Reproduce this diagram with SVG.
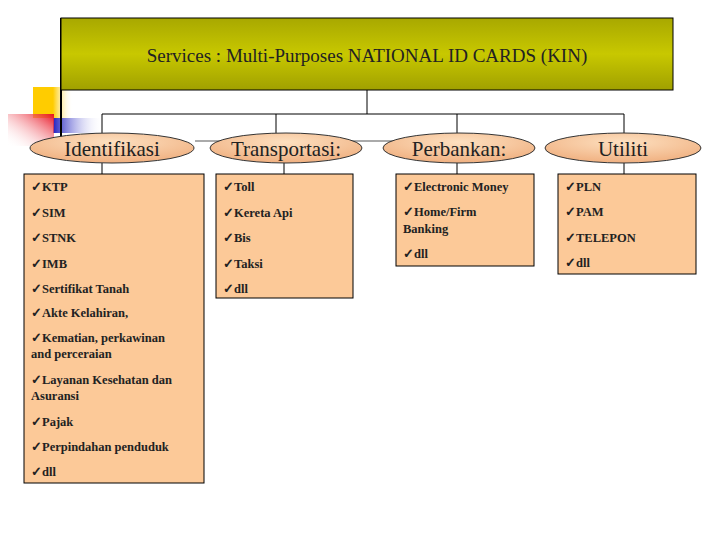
<svg xmlns="http://www.w3.org/2000/svg" width="720" height="540" viewBox="0 0 720 540">
<defs>
<linearGradient id="tg" x1="0" y1="0" x2="0" y2="1"><stop offset="0" stop-color="#a8a800"/><stop offset="0.5" stop-color="#c8c800"/><stop offset="1" stop-color="#a0a000"/></linearGradient>
<radialGradient id="eg" cx="0.5" cy="0.3" r="0.7"><stop offset="0" stop-color="#fde0c0"/><stop offset="1" stop-color="#f0b080"/></radialGradient>
<linearGradient id="rg" x1="1" y1="0" x2="0" y2="1"><stop offset="0" stop-color="#e81020"/><stop offset="1" stop-color="#ffffff" stop-opacity="0"/></linearGradient>
<linearGradient id="bg" x1="0" y1="0" x2="1" y2="0"><stop offset="0" stop-color="#2020c0"/><stop offset="1" stop-color="#ffffff" stop-opacity="0"/></linearGradient>
<linearGradient id="yg" x1="0" y1="0" x2="1" y2="0"><stop offset="0.5" stop-color="#ffcc00"/><stop offset="1" stop-color="#ffffff" stop-opacity="0"/></linearGradient>
<style>
.box{fill:#fcc998;stroke:#000;stroke-width:1}
.ell{fill:url(#eg);stroke:#333;stroke-width:1}
.hd{font-family:"Liberation Serif",serif;font-size:21px;fill:#222;text-anchor:middle}
.it{font-family:"Liberation Serif",serif;font-size:12.5px;font-weight:bold;fill:#222}
.ln{stroke:#000;stroke-width:1;fill:none}
</style>
</defs>
<g id="decor">
<rect x="33" y="87" width="40" height="31" fill="url(#yg)"/>
<rect x="53" y="118" width="50" height="15" fill="url(#bg)"/>
<rect x="8" y="114" width="46" height="32" fill="url(#rg)"/>
<line x1="195" y1="141" x2="400" y2="141" stroke="#aaa" stroke-width="2"/>
<line x1="61" y1="18" x2="61" y2="160" stroke="#000" stroke-width="2"/>
</g>
<g id="title">
<rect x="61" y="18" width="612" height="72" fill="url(#tg)" stroke="#000"/>
<text x="367" y="62" font-family="Liberation Serif,serif" font-size="19" fill="#222" text-anchor="middle">Services : Multi-Purposes NATIONAL ID CARDS (KIN)</text>
</g>
<g id="connectors" class="ln">
<path d="M367 90V114M102 114H624M102 114V133M276 114V133M457 114V133M624 114V133"/>
<path d="M102 163V174M284 163V174M457 163V174M624 163V174"/>
</g>
<g id="identifikasi">
<ellipse class="ell" cx="112" cy="148" rx="82" ry="15"/>
<text class="hd" x="112" y="156">Identifikasi</text>
<rect class="box" x="24" y="174" width="180" height="309"/>
<text class="it" x="31" y="191">✓KTP</text>
<text class="it" x="31" y="217">✓SIM</text>
<text class="it" x="31" y="242">✓STNK</text>
<text class="it" x="31" y="268">✓IMB</text>
<text class="it" x="31" y="293">✓Sertifikat Tanah</text>
<text class="it" x="31" y="317">✓Akte Kelahiran,</text>
<text class="it" x="31" y="342">✓Kematian, perkawinan</text>
<text class="it" x="31" y="358">and perceraian</text>
<text class="it" x="31" y="384">✓Layanan Kesehatan dan</text>
<text class="it" x="31" y="400">Asuransi</text>
<text class="it" x="31" y="426">✓Pajak</text>
<text class="it" x="31" y="451">✓Perpindahan penduduk</text>
<text class="it" x="31" y="476">✓dll</text>
</g>
<g id="transportasi">
<ellipse class="ell" cx="286" cy="148" rx="76" ry="15"/>
<text class="hd" x="286" y="156">Transportasi:</text>
<rect class="box" x="216" y="174" width="137" height="124"/>
<text class="it" x="223" y="191">✓Toll</text>
<text class="it" x="223" y="217">✓Kereta Api</text>
<text class="it" x="223" y="242">✓Bis</text>
<text class="it" x="223" y="268">✓Taksi</text>
<text class="it" x="223" y="293">✓dll</text>
</g>
<g id="perbankan">
<ellipse class="ell" cx="459" cy="148" rx="76" ry="15"/>
<text class="hd" x="459" y="156">Perbankan:</text>
<rect class="box" x="396" y="174" width="138" height="92"/>
<text class="it" x="403" y="191">✓Electronic Money</text>
<text class="it" x="403" y="216">✓Home/Firm</text>
<text class="it" x="403" y="233">Banking</text>
<text class="it" x="403" y="258">✓dll</text>
</g>
<g id="utiliti">
<ellipse class="ell" cx="623" cy="148" rx="78" ry="15"/>
<text class="hd" x="623" y="156">Utiliti</text>
<rect class="box" x="558" y="174" width="138" height="100"/>
<text class="it" x="565" y="191">✓PLN</text>
<text class="it" x="565" y="216">✓PAM</text>
<text class="it" x="565" y="242">✓TELEPON</text>
<text class="it" x="565" y="267">✓dll</text>
</g>
</svg>
